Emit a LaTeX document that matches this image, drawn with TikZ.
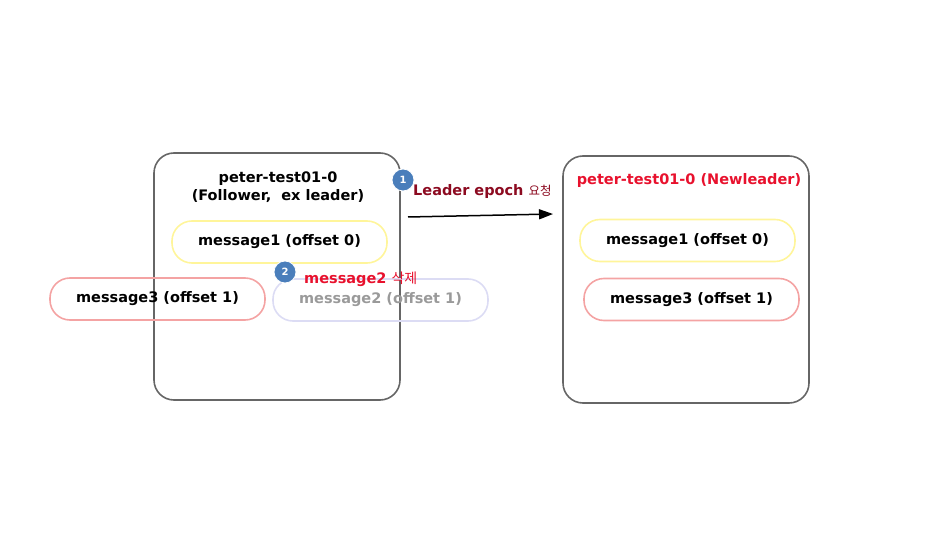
\documentclass[tikz,border=0pt]{standalone}
\usepackage{fontspec}
\setmainfont{DejaVu Sans}
\newfontfamily\krfont{Noto Sans CJK KR}
\usepackage{xcolor}
\usepackage{tikz}
\usetikzlibrary{arrows.meta}
\definecolor{boxgray}{HTML}{666666}
\definecolor{pillyellow}{HTML}{FFF59A}
\definecolor{pillpink}{HTML}{F4A3A3}
\definecolor{pilllav}{HTML}{DCDCF4}
\definecolor{ghost}{HTML}{9A9A9A}
\definecolor{badgeblue}{HTML}{4A7EBB}
\definecolor{alertred}{HTML}{E8112D}
\definecolor{darkred}{HTML}{8C0A20}
\tikzset{broker/.style={draw=boxgray, line width=1.6pt, rounded corners=20pt, minimum width=246pt, minimum height=247pt},
  pill/.style={line width=1.6pt, rounded corners=20pt, minimum width=215pt, minimum height=42pt, font=\fontsize{14.5}{16}\selectfont\bfseries},
  badge/.style={circle, fill=badgeblue, draw=white, line width=0.8pt, minimum size=22pt, inner sep=0pt, text=white, font=\fontsize{10}{11}\selectfont\bfseries}}

\begin{document}
\begin{tikzpicture}[x=1pt, y=-1pt, font=\fontsize{14.5}{18}\selectfont\bfseries]
  \useasboundingbox (0,0) rectangle (944,537);

  % Brokers
  \node[broker] (old) at (277,276.5) {};
  \node[broker] (new) at (686,279.5) {};

  \node[align=center] (oldtitle) at (278,187) {peter-test01-0\\(Follower,\ \ ex leader)};
  \node[text=alertred] (newtitle) at (689,181) {peter-test01-0 (Newleader)};

  % Messages
  \node[pill, draw=pillyellow] (oldmsg1) at (279.5,242) {message1 (offset 0)};
  \node[pill, draw=pillpink] (oldmsg3) at (157.5,299) {message3 (offset 1)};
  \node[pill, draw=pilllav, text=ghost] (oldmsg2) at (380.5,300) {message2 (offset 1)};

  \node[pill, draw=pillyellow] (newmsg1) at (687.5,240.5) {message1 (offset 0)};
  \node[pill, draw=pillpink] (newmsg3) at (691.5,299.5) {message3 (offset 1)};

  % Steps
  \node[badge] (step1) at (403,180) {1};
  \node[anchor=west, text=darkred, inner sep=0pt] (epochlabel) at (413,192)
    {Leader epoch {\krfont\mdseries\fontsize{12.5}{13}\selectfont 요청}};

  \node[badge] (step2) at (285,272) {2};
  \node[anchor=west, text=alertred, inner sep=0pt] (dellabel) at (304,279)
    {message2 {\krfont\mdseries\fontsize{14}{15}\selectfont 삭제}};

  % Request flow
  \coordinate (reqstart) at (408,217);
  \coordinate (reqend) at (553,214);
  \draw[-{Triangle[length=14pt, width=10pt]}, line width=1.5pt] (reqstart) -- (reqend);
\end{tikzpicture}
\end{document}
